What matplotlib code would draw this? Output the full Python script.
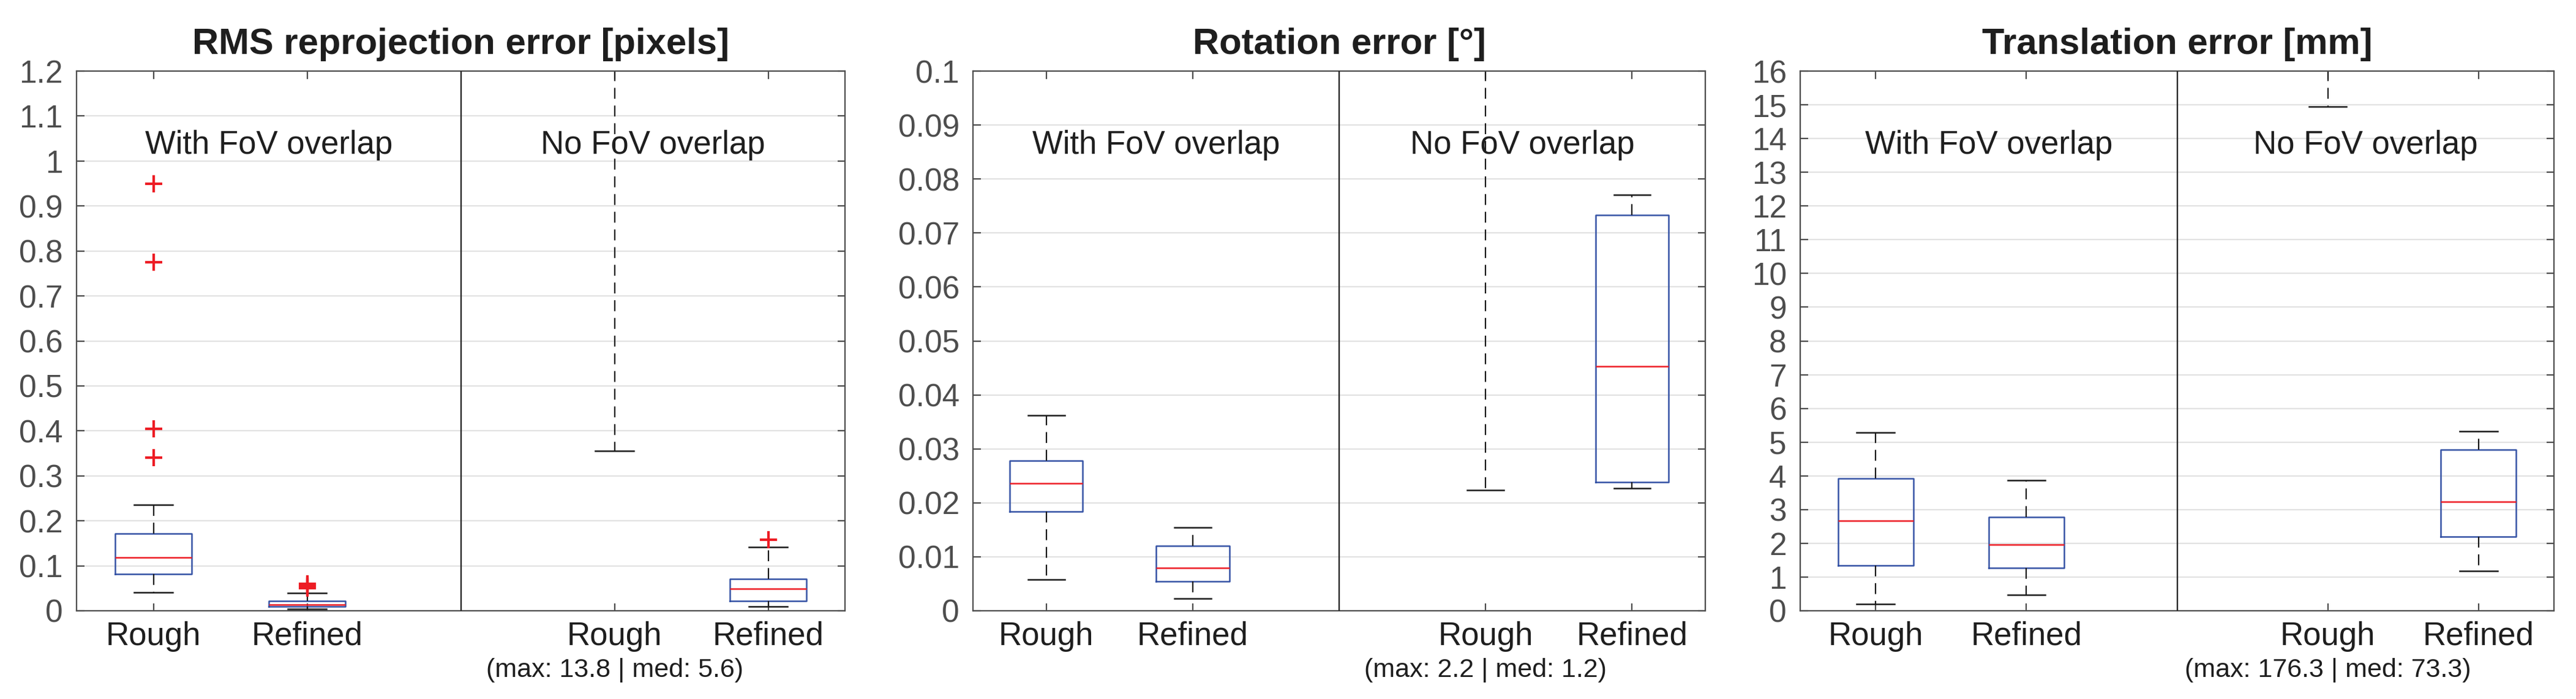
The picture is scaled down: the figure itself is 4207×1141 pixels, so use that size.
import matplotlib
matplotlib.use("Agg")
import matplotlib.pyplot as plt
import matplotlib.transforms as mtransforms

plt.rcParams["font.family"] = ["Liberation Sans", "DejaVu Sans"]

# ---- data ----
POSITIONS = [1, 2, 4, 5]
XLABELS   = ["Rough", "Refined", "Rough", "Refined"]
GROUPS    = ["With FoV overlap", "No FoV overlap"]

# RMS reprojection error [pixels]
rms_q1     = [0.082, 0.009, 2.5, 0.022]
rms_med    = [0.118, 0.0135, 5.6, 0.0495]
rms_q3     = [0.171, 0.0216, 8.0, 0.0713]
rms_lo     = [0.041, 0.0036, 0.356, 0.009]
rms_hi     = [0.235, 0.039, 13.8, 0.1416]
rms_fliers = [[0.950, 0.775, 0.404, 0.340], [0.051, 0.054, 0.056, 0.058, 0.060], [], [0.158]]

# Rotation error [deg]
rot_q1     = [0.0184, 0.00545, 0.6, 0.0238]
rot_med    = [0.0236, 0.0079, 1.2, 0.0453]
rot_q3     = [0.0278, 0.0120, 1.6, 0.0733]
rot_lo     = [0.0058, 0.0023, 0.0224, 0.0227]
rot_hi     = [0.0362, 0.0154, 2.2, 0.0771]
rot_fliers = [[], [], [], []]

# Translation error [mm]
tr_q1     = [1.35, 1.28, 40.0, 2.205]
tr_med    = [2.667, 1.967, 73.3, 3.234]
tr_q3     = [3.92, 2.785, 110.0, 4.78]
tr_lo     = [0.198, 0.475, 14.94, 1.188]
tr_hi     = [5.28, 3.868, 176.3, 5.32]
tr_fliers = [[], [], [], []]

PANELS = [
    ("RMS reprojection error [pixels]", (rms_q1, rms_med, rms_q3, rms_lo, rms_hi, rms_fliers),
     1.2, [i / 10 for i in range(13)]),
    ("Rotation error [°]", (rot_q1, rot_med, rot_q3, rot_lo, rot_hi, rot_fliers),
     0.1, [i / 100 for i in range(11)]),
    ("Translation error [mm]", (tr_q1, tr_med, tr_q3, tr_lo, tr_hi, tr_fliers),
     16, list(range(17))),
]

BLUE  = "#3553a5"
RED   = "#ed1c24"
AXCOL = "#4d4d4d"
TXT   = "#1e1e1e"

# axes rectangles in figure pixels (left, right) ; shared bottom / top
W, H = 4207, 1141
AX_X = [(125, 1380), (1589, 2785), (2940, 4171)]
AX_BOT, AX_TOP = 997, 116

def fmt(v):
    s = f"{v:.2f}".rstrip("0").rstrip(".")
    return s

fig = plt.figure(figsize=(W / 100, H / 100), dpi=100)

for (title, data, ymax, yticks), (x0, x1) in zip(PANELS, AX_X):
    ax = fig.add_axes([x0 / W, (H - AX_BOT) / H, (x1 - x0) / W, (AX_BOT - AX_TOP) / H])
    q1, med, q3, lo, hi, fl = data
    stats = [dict(q1=a, med=b, q3=c, whislo=d, whishi=e, fliers=f)
             for a, b, c, d, e, f in zip(q1, med, q3, lo, hi, fl)]
    ax.bxp(stats, positions=POSITIONS, widths=0.5, capwidths=0.25, showfliers=True,
           boxprops=dict(color=BLUE, lw=1.8),
           medianprops=dict(color=RED, lw=1.8),
           whiskerprops=dict(color="#1a1a1a", lw=1.6, linestyle=(0, (8, 5))),
           capprops=dict(color="#1a1a1a", lw=1.8),
           flierprops=dict(marker="+", markeredgecolor=RED, markersize=20,
                           markeredgewidth=3, linestyle="none"))

    ax.axvline(3, color="#262626", lw=1.7, zorder=3)
    ax.set_xlim(0.5, 5.5)
    ax.set_ylim(0, ymax)
    ax.set_yticks(yticks)
    ax.set_yticklabels([fmt(v) for v in yticks])
    ax.set_xticks(POSITIONS)
    ax.set_xticklabels(XLABELS, color=TXT)

    ax.yaxis.grid(True, color="#e2e2e2", lw=1.6)
    ax.set_axisbelow(True)
    for sp in ax.spines.values():
        sp.set_color(AXCOL)
        sp.set_linewidth(1.6)
    ax.tick_params(axis="y", direction="in", length=9, width=1.6, color=AXCOL,
                   labelsize=37, labelcolor=AXCOL, pad=16, right=True)
    ax.tick_params(axis="x", direction="in", length=9, width=1.6, color=AXCOL,
                   labelsize=38, pad=12, top=True)

    ax.set_title(title, fontsize=43, fontweight="bold", color=TXT, pad=20)

    trans = mtransforms.blended_transform_factory(ax.transData, ax.transAxes)
    ax.text(1.75, 0.847, GROUPS[0], transform=trans, ha="center", va="baseline",
            fontsize=38, color=TXT)
    ax.text(4.25, 0.847, GROUPS[1], transform=trans, ha="center", va="baseline",
            fontsize=38, color=TXT)
    ax.text(4, -0.1226, f"(max: {fmt(hi[2])} | med: {fmt(med[2])})", transform=trans,
            ha="center", va="baseline", fontsize=31, color=TXT)

fig.savefig("out.png", dpi=100)
